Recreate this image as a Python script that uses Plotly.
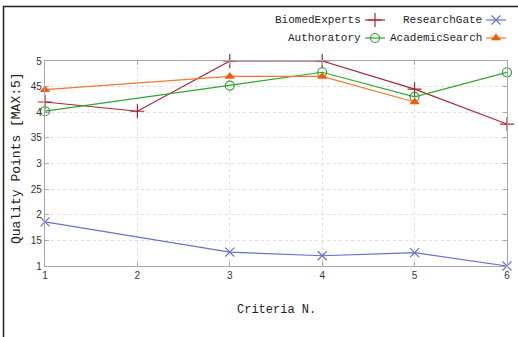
import plotly.graph_objects as go

W, H = 518, 337

criteria = [1, 2, 3, 4, 5, 6]
biomed = [4.2, 4.02, 5.0, 5.0, 4.45, 3.77]
authoratory = [4.02, None, 4.52, 4.78, 4.3, 4.78]
research = [1.86, None, 1.27, 1.2, 1.26, 1.0]
academic = [4.44, None, 4.7, 4.7, 4.2, None]

ytick_vals = [1, 1.5, 2, 2.5, 3, 3.5, 4, 4.5, 5]
ytick_text = ["1", "15", "2", "25", "3", "35", "4", "45", "5"]
xtick_vals = [1, 2, 3, 4, 5, 6]

series = [
    ("BiomedExperts", biomed, "#A52535", "cross-thin-open", 10, 1.2),
    ("Authoratory", authoratory, "#2DA52D", "circle-open", 9, 1.2),
    ("ResearchGate", research, "#6470CF", "x-thin-open", 9, 1.2),
    ("AcademicSearch", academic, "#F0782E", "triangle-up", 9, 0),
]
marker_color = {"AcademicSearch": "#F05A0A"}

# plot area in pixels
PL, PR, PT, PB = 45, 507, 61, 266

fig = go.Figure()
for name, vals, col, sym, sz, lw in series:
    mc = marker_color.get(name, col)
    fig.add_trace(go.Scatter(
        x=criteria, y=vals, mode="lines+markers", name=name,
        connectgaps=True, cliponaxis=False,
        line=dict(color=col, width=1.2),
        marker=dict(symbol=sym, size=sz, color=mc,
                    line=dict(color=mc, width=lw if lw else 0)),
        showlegend=False,
    ))

# custom gnuplot-style legend (text, then sample)
legend_pos = {
    "BiomedExperts": (363, 20),
    "ResearchGate": (484, 20),
    "Authoratory": (363, 38),
    "AcademicSearch": (484, 38),
}
for name, vals, col, sym, sz, lw in series:
    mc = marker_color.get(name, col)
    xr, yc = legend_pos[name]
    fig.add_trace(go.Scatter(
        x=[xr + 2, xr + 12, xr + 22], y=[yc, yc, yc],
        mode="lines", xaxis="x2", yaxis="y2", showlegend=False,
        line=dict(color=col, width=1.2), hoverinfo="skip", cliponaxis=False,
    ))
    fig.add_trace(go.Scatter(
        x=[xr + 12], y=[yc], mode="markers", xaxis="x2", yaxis="y2",
        showlegend=False, hoverinfo="skip", cliponaxis=False,
        marker=dict(symbol=sym, size=sz, color=mc,
                    line=dict(color=mc, width=lw if lw else 0)),
    ))
    fig.add_annotation(
        x=xr / W, y=1 - yc / H, xref="paper", yref="paper",
        text=name, showarrow=False, xanchor="right", yanchor="middle",
        font=dict(family="Liberation Mono", size=11, color="#222"),
    )

# axis titles
fig.add_annotation(
    x=(PL + PR) / 2 / W, y=1 - 310 / H, xref="paper", yref="paper",
    text="Criteria N.", showarrow=False, xanchor="center", yanchor="middle",
    font=dict(family="Liberation Mono", size=12, color="#222"),
)
fig.add_annotation(
    x=16 / W, y=1 - 158 / H, xref="paper", yref="paper", textangle=-90,
    text="Quality Points [MAX:5]", showarrow=False, xanchor="center",
    yanchor="middle",
    font=dict(family="Liberation Mono", size=13, color="#222"),
)

fig.update_layout(
    width=W, height=H,
    margin=dict(l=0, r=0, t=0, b=0),
    paper_bgcolor="white", plot_bgcolor="rgba(0,0,0,0)",
    xaxis=dict(
        domain=[PL / W, PR / W], range=[1, 6], automargin=False,
        tickvals=xtick_vals, showgrid=True, gridcolor="#dedede", griddash="dot",
        gridwidth=1, zeroline=False, showline=True, linecolor="#a8a8a8",
        linewidth=1.2, ticks="inside", ticklen=4, tickcolor="#a8a8a8",
        mirror="ticks", anchor="y",
        tickfont=dict(family="Liberation Sans", size=10, color="#333"),
    ),
    yaxis=dict(
        domain=[1 - PB / H, 1 - PT / H], range=[1, 5], automargin=False,
        tickvals=ytick_vals, ticktext=ytick_text, anchor="x",
        showgrid=True, gridcolor="#dedede", griddash="dot", gridwidth=1,
        zeroline=False, showline=True, linecolor="#a8a8a8", linewidth=1.2,
        ticks="inside", ticklen=4, tickcolor="#a8a8a8", mirror="ticks",
        tickfont=dict(family="Liberation Sans", size=10, color="#333"),
    ),
    xaxis2=dict(domain=[0, 1], range=[0, W], visible=False, anchor="y2",
                automargin=False, fixedrange=True),
    yaxis2=dict(domain=[0, 1], range=[H, 0], visible=False, anchor="x2",
                automargin=False, fixedrange=True),
    shapes=[dict(type="rect", xref="paper", yref="paper",
                 x0=3.5 / W, x1=1.2, y0=-0.2, y1=1 - 6.5 / H,
                 line=dict(color="#222", width=1.5))],
)

fig.write_html("out.html", config={"displayModeBar": False},
               post_script="document.body.style.margin='0';")
